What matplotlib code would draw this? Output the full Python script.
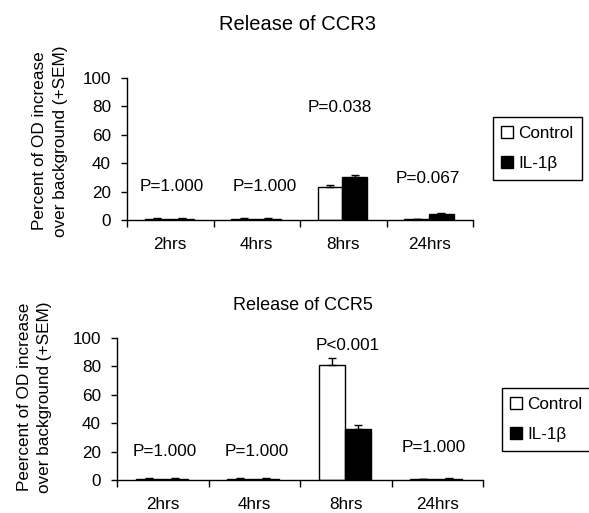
import matplotlib.pyplot as plt
from matplotlib.patches import Patch
import numpy as np

plt.rcParams['font.family'] = ['Liberation Sans', 'DejaVu Sans']
plt.rcParams['font.size'] = 12.3

# data
times = ["2hrs", "4hrs", "8hrs", "24hrs"]

ccr3_control = [0.7, 0.7, 23.0, 0.5]
ccr3_control_sem = [0.4, 0.4, 2.0, 0.3]
ccr3_il1b = [0.8, 0.8, 30.0, 4.2]
ccr3_il1b_sem = [0.4, 0.4, 1.5, 0.9]
ccr3_pvals = ["P=1.000", "P=1.000", "P=0.038", "P=0.067"]
ccr3_p_x = [0.52, 1.59, 2.46, 3.48]
ccr3_p_y = [20.6, 20.6, 76.3, 26.3]

ccr5_control = [0.8, 0.8, 81.0, 0.7]
ccr5_control_sem = [0.4, 0.4, 4.5, 0.3]
ccr5_il1b = [0.8, 0.8, 36.0, 0.8]
ccr5_il1b_sem = [0.4, 0.4, 2.5, 0.3]
ccr5_pvals = ["P=1.000", "P=1.000", "P<0.001", "P=1.000"]
ccr5_p_x = [0.525, 1.53, 2.52, 3.46]
ccr5_p_y = [16.9, 16.9, 91.4, 19.9]

W, H = 589, 513
fig = plt.figure(figsize=(W / 100, H / 100), dpi=100)


def panel(rect, control, control_sem, il1b, il1b_sem, pvals, px, py):
    ax = fig.add_axes(rect)
    x = np.arange(len(times))
    bw = 0.285
    xc = x + 0.49 - bw / 2
    xi = x + 0.49 + bw / 2
    ax.bar(xc, control, bw, color="white", edgecolor="black", linewidth=1.0)
    ax.bar(xi, il1b, bw, color="black", edgecolor="black", linewidth=1.0)
    ax.errorbar(xc, control, yerr=[np.zeros(4), control_sem], fmt="none",
                ecolor="black", elinewidth=1.0, capsize=3.2, capthick=1.0)
    ax.errorbar(xi, il1b, yerr=[np.zeros(4), il1b_sem], fmt="none",
                ecolor="black", elinewidth=1.0, capsize=3.2, capthick=1.0)
    for t, tx, ty in zip(pvals, px, py):
        ax.text(tx, ty, t, ha="center", va="baseline", fontsize=12.3)
    ax.set_xlim(0, 4)
    ax.set_ylim(0, 100)
    ax.set_yticks(range(0, 101, 20))
    ax.set_xticks(range(5))
    ax.set_xticklabels([])
    ax.set_xticks(x + 0.5, minor=True)
    ax.set_xticklabels(times, minor=True)
    ax.tick_params(axis="x", which="major", length=5, width=1, direction="out")
    ax.tick_params(axis="x", which="minor", length=0, pad=12.5)
    ax.tick_params(axis="y", length=4.5, width=1, pad=7)
    for s in ["top", "right"]:
        ax.spines[s].set_visible(False)
    for s in ["left", "bottom"]:
        ax.spines[s].set_linewidth(1.0)
    return ax


panel([127 / W, 1 - 220 / H, 346 / W, 142 / H],
      ccr3_control, ccr3_control_sem, ccr3_il1b, ccr3_il1b_sem,
      ccr3_pvals, ccr3_p_x, ccr3_p_y)
panel([117 / W, 1 - 480 / H, 366 / W, 142.3 / H],
      ccr5_control, ccr5_control_sem, ccr5_il1b, ccr5_il1b_sem,
      ccr5_pvals, ccr5_p_x, ccr5_p_y)

fig.text(297.5 / W, 1 - 24 / H, "Release of CCR3", ha="center", va="center", fontsize=14.5)
fig.text(302.6 / W, 1 - 305.7 / H, "Release of CCR5", ha="center", va="center", fontsize=13)

fig.text(50 / W, 1 - 141 / H, "Percent of OD increase\nover background (+SEM)",
         rotation=90, ha="center", va="center", linespacing=1.45, fontsize=12.3)
fig.text(34.5 / W, 1 - 397 / H, "Peercent of OD increase\nover background (+SEM)",
         rotation=90, ha="center", va="center", linespacing=1.45, fontsize=12.3)

handles = [Patch(facecolor="white", edgecolor="black", linewidth=1.0, label="Control"),
           Patch(facecolor="black", edgecolor="black", linewidth=1.0, label="IL-1\u03b2")]
for lx, ly in [(492.7, 117.3), (501.7, 388.3)]:
    leg = fig.legend(handles=handles, loc="upper left",
                     bbox_to_anchor=(lx / W, 1 - ly / H), borderaxespad=0,
                     fancybox=False, framealpha=1, edgecolor="black",
                     handlelength=0.7, handleheight=0.7, handletextpad=0.3,
                     labelspacing=0.9, borderpad=0.5, fontsize=12.3)
    leg.get_frame().set_linewidth(1.0)

fig.savefig("out.png", dpi=100)
